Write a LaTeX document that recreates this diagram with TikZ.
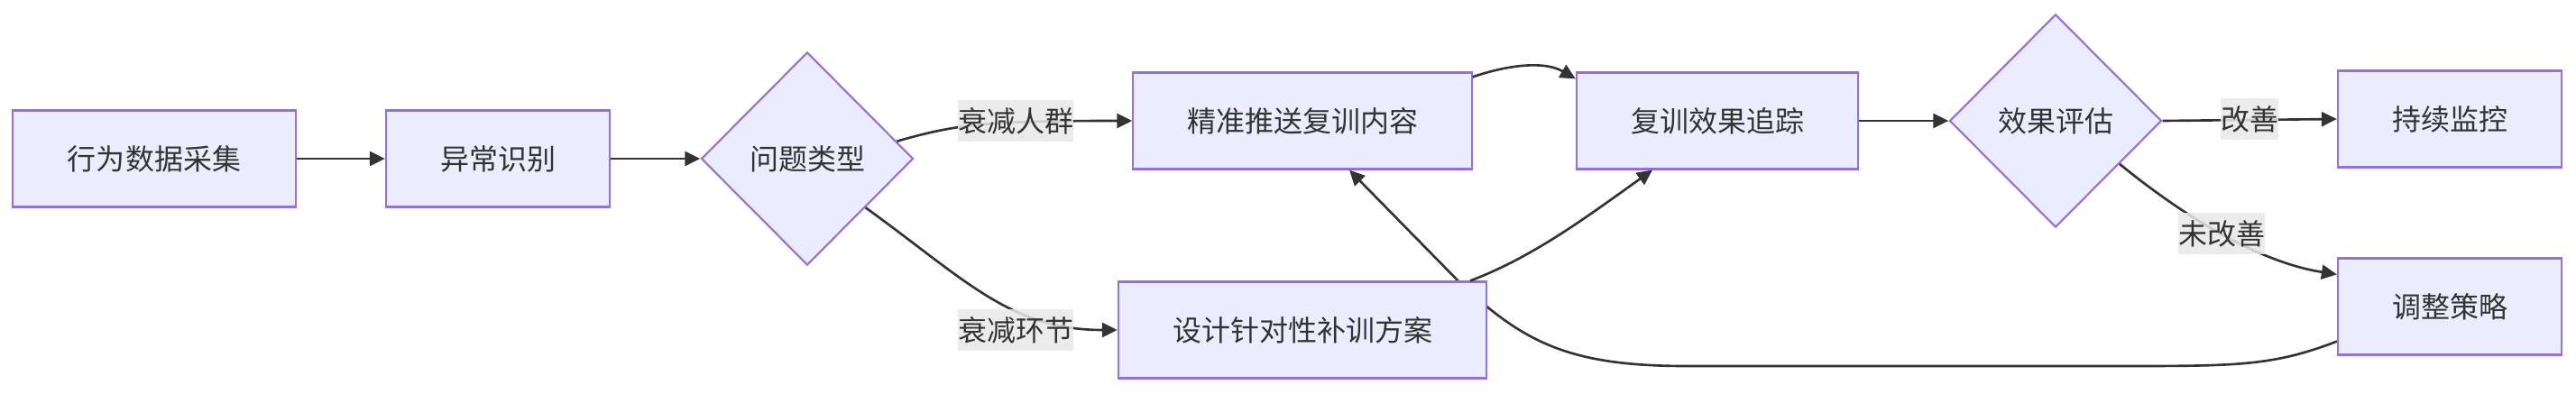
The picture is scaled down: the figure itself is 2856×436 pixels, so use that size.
\documentclass[tikz,border=0pt]{standalone}
\usepackage{fontspec}
\newfontfamily\cjk{Noto Sans CJK SC}
\usetikzlibrary{arrows.meta,calc,shapes.geometric}
\pgfdeclarelayer{bg}
\pgfsetlayers{bg,main}
\definecolor{nfill}{HTML}{ECECFF}
\definecolor{nstroke}{HTML}{9370DB}
\definecolor{edgec}{HTML}{333333}
\definecolor{lblc}{HTML}{E8E8E8}
\definecolor{txt}{HTML}{333333}
\begin{document}
\begin{tikzpicture}[x=0.01cm,y=-0.01cm,
  txtfont/.style={font=\cjk\fontsize{9.1pt}{11pt}\selectfont, text=txt},
  box/.style={rectangle, draw=nstroke, fill=nfill, line width=0.6pt, minimum height=1.07cm, inner sep=0pt, txtfont},
  dia/.style={diamond, draw=nstroke, fill=nfill, line width=0.6pt, minimum width=2.35cm, minimum height=2.36cm, inner sep=0pt, txtfont},
  ed/.style={draw=edgec, line width=0.75pt, -{Triangle[length=0.17cm,width=0.16cm]}},
  lab/.style={fill=lblc, fill opacity=0.85, text opacity=1, inner xsep=0pt, inner ysep=0.08cm, txtfont}
]
\useasboundingbox (0,0) rectangle (2856,436);
\node[box, minimum width=3.13cm] (A) at (171,176) {行为数据采集};
\node[box, minimum width=2.48cm] (B) at (552,176) {异常识别};
\node[dia] (C) at (895,176) {问题类型};
\node[box, minimum width=3.75cm] (D) at (1444,134) {精准推送复训内容};
\node[box, minimum width=4.08cm] (E) at (1444,366) {设计针对性补训方案};
\node[box, minimum width=3.12cm] (F) at (1904,134) {复训效果追踪};
\node[dia] (G) at (2279,134) {效果评估};
\node[box, minimum width=2.48cm] (H) at (2716,132) {持续监控};
\node[box, minimum width=2.48cm] (I) at (2716,340) {调整策略};

\begin{pgfonlayer}{bg}
\draw[ed] ($(I.south west)+(0,-16)$) .. controls (2520,406) and (2480,406) .. (2350,406)
  -- (1870,406) .. controls (1740,406) and (1690,380) .. (1620,315) -- ($(D.south)+(52,0)$);
\end{pgfonlayer}

\draw[ed] (A) -- (B);
\draw[ed] (B) -- (C);
\draw[ed] (C.11) .. controls (1060,138) and (1090,134) .. (D.west);
\draw[ed] (C.-40) .. controls (1070,310) and (1120,366) .. (E.west);
\draw[ed] ($(D.north east)+(0,6)$) .. controls (1665,74) and (1710,66) .. ($(F.north west)+(0,8)$);
\draw[ed] ($(E.north)+(186,0)$) .. controls (1700,285) and (1760,240) .. ($(F.south)+(-72,0)$);
\draw[ed] (F) -- (G);
\draw[ed] (G.east) -- (H.west);
\draw[ed] (G.-34) .. controls (2415,235) and (2500,290) .. ($(I.north west)+(0,19)$);

\node[lab] (L1) at (1126,134) {衰减人群};
\node[lab] (L2) at (1126,366) {衰减环节};
\node[lab] (L3) at (2494,132) {改善};
\node[lab] (L4) at (2463,259) {未改善};
\end{tikzpicture}
\end{document}
